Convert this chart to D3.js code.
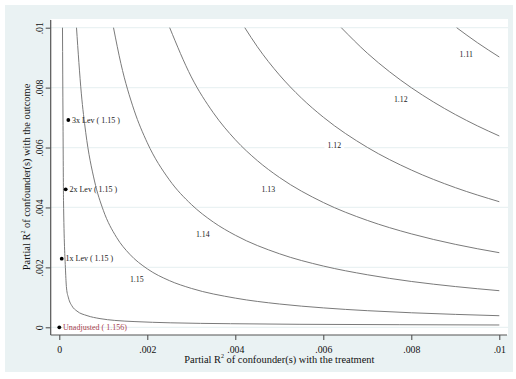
<!DOCTYPE html>
<html>
<head>
<meta charset="utf-8">
<script src="https://cdn.jsdelivr.net/npm/d3@7"></script>
<style>
  html, body { margin: 0; padding: 0; background: #ffffff; }
  svg { display: block; font-family: "Liberation Serif", "Times New Roman", serif; }
</style>
</head>
<body>
<svg id="chart" width="516" height="379"></svg>
<script>
// ---- data (partial R2 with treatment, partial R2 with outcome) ----
const xTicks = [0, 0.002, 0.004, 0.006, 0.008, 0.01];
const xTickLabels = ["0", ".002", ".004", ".006", ".008", ".01"];
const yTicks = [0, 0.002, 0.004, 0.006, 0.008, 0.01];
const yTickLabels = ["0", ".002", ".004", ".006", ".008", ".01"];

const curve1 = [[0.0000727,0.01],[0.0000841,0.00692],[0.0000955,0.00424],[0.000141,0.00191],
  [0.000164,0.00131],[0.000209,0.00098],[0.000289,0.00071],[0.000402,0.00054],[0.00063,0.00039],
  [0.000925,0.00029],[0.00126,0.00023],[0.00172,0.00019],[0.00252,0.00015],[0.00389,0.00012],
  [0.00547,0.00010],[0.00774,0.000087],[0.01,0.000077]];
const curve2 = [[0.000391,0.01],[0.0005,0.007816],[0.0006,0.00651],[0.0008,0.004884],[0.001,0.003906],
  [0.0013,0.003004],[0.0016,0.00244],[0.002,0.001951],[0.0025,0.001559],[0.003,0.001299],
  [0.004,0.000974],[0.005,0.000778],[0.006,0.000648],[0.007,0.000555],[0.008,0.000485],
  [0.009,0.000431],[0.01,0.000387]];
const curve3 = [[0.001232,0.01],[0.0014,0.008802],[0.0017,0.007247],[0.002,0.006158],[0.0025,0.004924],
  [0.003,0.004101],[0.0035,0.003513],[0.004,0.003073],[0.005,0.002456],[0.006,0.002045],
  [0.007,0.001754],[0.008,0.00153],[0.009,0.00136],[0.01,0.001222]];
const curve4 = [[0.002509,0.01],[0.003,0.008358],[0.0035,0.007161],[0.004,0.006262],[0.0045,0.005564],
  [0.005,0.005005],[0.006,0.004166],[0.007,0.003568],[0.008,0.003119],[0.009,0.002769],[0.01,0.00249]];
const curve5 = [[0.004216,0.01],[0.0045,0.009367],[0.005,0.008426],[0.0055,0.007656],[0.006,0.007014],
  [0.007,0.006006],[0.008,0.00525],[0.009,0.004662],[0.01,0.004192]];
const curve6 = [[0.006409,0.01],[0.007,0.00915],[0.0075,0.008536],[0.008,0.007998],[0.0085,0.007524],
  [0.009,0.007102],[0.0095,0.006725],[0.01,0.006386]];
const curve7 = [[0.009031,0.01],[0.0095,0.009502],[0.01,0.009022]];

const contourLabels = ["1.15", "1.14", "1.13", "1.12", "1.12", "1.11"];
const contourLabelX = [0.00176, 0.00326, 0.00475, 0.00625, 0.00776, 0.00925];
const contourLabelY = [0.00160, 0.00311, 0.00461, 0.00608, 0.00761, 0.00911];

const benchLabels = ["Unadjusted ( 1.156)", "1x Lev ( 1.15 )", "2x Lev ( 1.15 )", "3x Lev ( 1.15 )"];
const benchR2D = [0, 0.000055, 0.000145, 0.000205];
const benchR2Y = [0, 0.00229, 0.004606, 0.00692];

const xTitle = "Partial R";
const xTitleRest = " of confounder(s) with the treatment";
const yTitle = "Partial R";
const yTitleRest = " of confounder(s) with the outcome";

// ---- layout ----
const svg = d3.select("#chart");
const W = 516, H = 379;
const region = {x0: 5, y0: 5, x1: 513, y1: 372};
const plot = {x0: 50.7, y0: 19, x1: 508, y1: 335};

const x = d3.scaleLinear().domain([0, 0.01]).range([59.3, 499.3]);
const y = d3.scaleLinear().domain([0, 0.01]).range([327.3, 27.7]);

svg.append("rect").attr("width", W).attr("height", H).attr("fill", "#ffffff");
svg.append("rect").attr("x", region.x0).attr("y", region.y0)
  .attr("width", region.x1 - region.x0).attr("height", region.y1 - region.y0)
  .attr("fill", "#eaf2f3");
svg.append("rect").attr("x", plot.x0).attr("y", plot.y0)
  .attr("width", plot.x1 - plot.x0).attr("height", plot.y1 - plot.y0)
  .attr("fill", "#ffffff");

// gridlines
svg.append("g").selectAll("line").data(yTicks).join("line")
  .attr("x1", plot.x0).attr("x2", plot.x1)
  .attr("y1", d => y(d)).attr("y2", d => y(d))
  .attr("stroke", "#eaf2f3").attr("stroke-width", 1.3);

// contour curves
svg.append("clipPath").attr("id", "clip").append("rect")
  .attr("x", plot.x0).attr("y", plot.y0)
  .attr("width", plot.x1 - plot.x0).attr("height", plot.y1 - plot.y0);
const line = d3.line().x(d => x(d[0])).y(d => y(d[1])).curve(d3.curveMonotoneX);
const curves = [curve1, curve2, curve3, curve4, curve5, curve6, curve7];
svg.append("g").attr("clip-path", "url(#clip)").selectAll("path").data(curves).join("path")
  .attr("d", line).attr("fill", "none")
  .attr("stroke", "#7a7a7a").attr("stroke-width", 1);

// contour labels with white boxes
const cl = svg.append("g");
contourLabels.forEach((t, i) => {
  const g = cl.append("g");
  const txt = g.append("text")
    .attr("x", x(contourLabelX[i])).attr("y", y(contourLabelY[i]))
    .attr("dy", "0.33em").attr("text-anchor", "middle")
    .attr("font-size", 7.8).attr("fill", "#1a1a1a").text(t);
  const bb = txt.node().getBBox();
  g.insert("rect", "text").attr("x", bb.x - 3).attr("y", bb.y - 1)
    .attr("width", bb.width + 6).attr("height", bb.height + 2).attr("fill", "#ffffff");
});

// benchmark points
const bg = svg.append("g");
benchLabels.forEach((t, i) => {
  const px = x(benchR2D[i]), py = y(benchR2Y[i]);
  bg.append("circle").attr("cx", px).attr("cy", py).attr("r", 1.9).attr("fill", "#000");
  bg.append("text").attr("x", px + 3.8).attr("y", py).attr("dy", "0.33em")
    .attr("font-size", 8).attr("fill", i === 0 ? "#a8424e" : "#1a1a1a").text(t);
});

// axes
const xAxis = d3.axisBottom(x).tickValues(xTicks).tickSize(5).tickSizeOuter(0)
  .tickFormat((d, i) => xTickLabels[i]);
const gx = svg.append("g").attr("transform", `translate(0,${plot.y1})`).call(xAxis);
gx.select(".domain").remove();
gx.selectAll("line").attr("stroke", "#444");
gx.selectAll("text").attr("y", 17.8).attr("dy", null)
  .attr("font-size", 9.8).attr("font-family", "Liberation Serif").attr("fill", "#111");

const yAxis = d3.axisLeft(y).tickValues(yTicks).tickSize(5).tickSizeOuter(0)
  .tickFormat((d, i) => yTickLabels[i]);
const gy = svg.append("g").attr("transform", `translate(${plot.x0},0)`).call(yAxis);
gy.select(".domain").remove();
gy.selectAll("line").attr("stroke", "#444");
gy.selectAll("text").attr("x", null).attr("dy", null)
  .attr("transform", "translate(-8,0) rotate(-90)").attr("text-anchor", "middle")
  .attr("font-size", 9.8).attr("font-family", "Liberation Serif").attr("fill", "#111");

svg.append("line").attr("x1", plot.x0).attr("x2", plot.x1 - 1)
  .attr("y1", plot.y1).attr("y2", plot.y1).attr("stroke", "#555").attr("stroke-width", 1.2);
svg.append("line").attr("x1", plot.x0).attr("x2", plot.x0)
  .attr("y1", plot.y0 + 1).attr("y2", plot.y1).attr("stroke", "#555").attr("stroke-width", 1.2);

// titles
const xt = svg.append("text").attr("x", (plot.x0 + plot.x1) / 2).attr("y", 363.2)
  .attr("text-anchor", "middle").attr("font-size", 10.4).attr("fill", "#111");
xt.append("tspan").text(xTitle);
xt.append("tspan").attr("font-size", 6).attr("dy", -5).text("2");
xt.append("tspan").attr("dy", 5).text(xTitleRest);

const yt = svg.append("text").attr("transform", `translate(30,${(plot.y0 + plot.y1) / 2}) rotate(-90)`)
  .attr("text-anchor", "middle").attr("font-size", 10.4).attr("fill", "#111");
yt.append("tspan").text(yTitle);
yt.append("tspan").attr("font-size", 6).attr("dy", -5).text("2");
yt.append("tspan").attr("dy", 5).text(yTitleRest);
</script>
</body>
</html>
